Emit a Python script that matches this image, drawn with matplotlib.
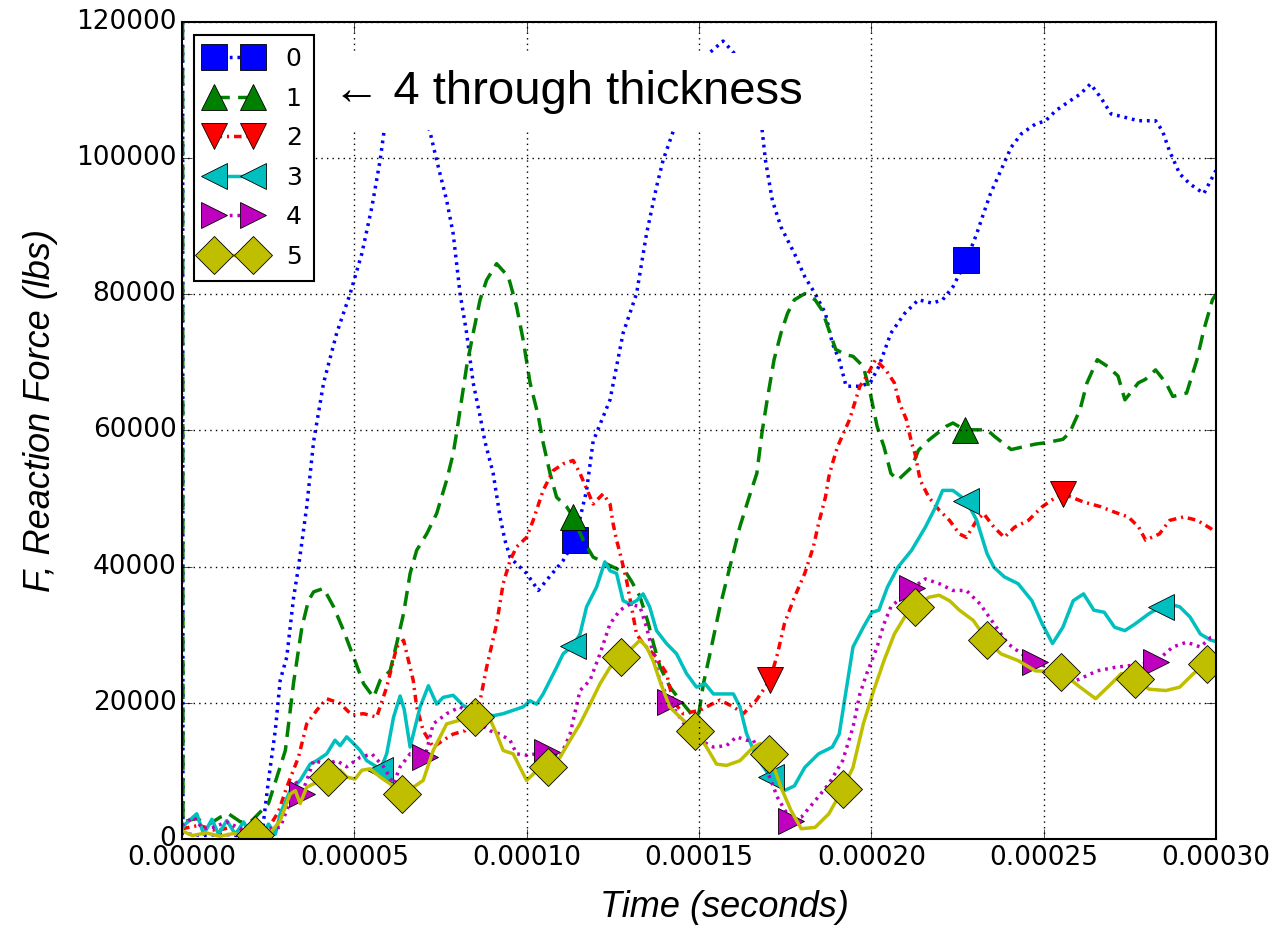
import numpy as np
import matplotlib
matplotlib.use("Agg")
import matplotlib.pyplot as plt
from matplotlib.ticker import FormatStrFormatter, MultipleLocator

plt.style.use("classic")
plt.rcParams["font.family"] = ["DejaVu Sans"]

# time in units of 1e-5 s, force in lbs
t0 = [0, 0.03, 0.6, 1.2, 1.8, 2.32, 2.37, 2.51, 2.71, 2.85, 3.04, 3.24, 3.38, 3.62, 3.82, 4.11, 4.49, 4.88,
      5.22, 5.51, 5.75, 5.86, 6.1, 6.5, 6.9, 7.2, 7.39, 7.68, 7.87, 8.07, 8.26, 8.45, 8.65, 8.79, 9.03, 9.23,
      9.37, 9.52, 9.61, 10.0, 10.34, 10.58, 11.06, 11.4, 11.74, 11.93, 12.42, 12.8, 13.19, 13.48, 13.77,
      13.96, 14.23, 14.7, 15.2, 15.7, 16.1, 16.5, 16.83, 16.93, 17.13, 17.38, 17.77, 18.07, 18.37, 18.67,
      18.87, 19.07, 19.27, 19.67, 19.97, 20.22, 20.57, 20.97, 21.37, 21.77, 22.07, 22.37, 22.76, 23.06,
      23.26, 23.46, 23.76, 24.06, 24.36, 24.76, 25.06, 25.36, 25.76, 26.06, 26.36, 26.66, 26.96, 27.36,
      27.75, 28.25, 28.45, 28.65, 28.95, 29.25, 29.65, 29.95, 30.0]
f0 = [400000, 800, 500, 700, 400, 300, 2700, 8600, 16000, 23300, 26700, 35500, 39900, 48800, 58400, 67000,
      74300, 80100, 86000, 92800, 99700, 103800, 108500, 111500, 108500, 103800, 99700, 93800, 88900, 80100,
      74300, 67000, 62100, 58400, 53700, 47300, 43900, 41400, 40900, 39000, 36500, 38000, 40900, 43900,
      51200, 58400, 64500, 74300, 80100, 88900, 95800, 99700, 103600, 110000, 115000, 117200, 115000,
      109000, 104300, 99700, 93800, 89900, 86000, 82600, 80100, 77200, 72800, 70400, 66500, 66500, 67000,
      69400, 74300, 77200, 79200, 78700, 79200, 81100, 85000, 88900, 91900, 94800, 98200, 101600, 103600,
      105000, 105500, 107000, 108400, 109400, 110900, 108900, 106500, 106000, 105500, 105500, 104000,
      101100, 97700, 96200, 94800, 97700, 98200]
m0 = [11.4, 22.76]

t1 = [0, 0.03, 0.4, 0.8, 1.11, 1.35, 1.7, 2.03, 2.51, 3.0, 3.24, 3.48, 3.67, 3.82, 4.11, 4.4, 4.69, 4.98,
      5.27, 5.56, 5.75, 6.04, 6.23, 6.43, 6.62, 6.81, 7.1, 7.39, 7.68, 7.87, 7.97, 8.26, 8.45, 8.65, 8.84,
      9.13, 9.47, 9.71, 9.9, 10.1, 10.34, 10.48, 10.68, 10.87, 11.16, 11.35, 11.64, 11.93, 12.4, 12.9,
      13.05, 13.29, 13.53, 13.68, 13.87, 14.16, 14.45, 14.84, 15.0, 15.13, 15.32, 15.61, 15.9, 16.19,
      16.43, 16.68, 16.83, 16.98, 17.18, 17.38, 17.57, 17.77, 18.07, 18.37, 18.57, 18.77, 18.97, 19.27,
      19.47, 19.77, 19.97, 20.17, 20.37, 20.57, 20.77, 21.17, 21.37, 21.67, 22.17, 22.37, 22.71, 23.36,
      23.56, 24.06, 24.76, 25.06, 25.56, 25.76, 26.06, 26.26, 26.56, 26.86, 27.16, 27.36, 27.75, 27.95,
      28.25, 28.55, 28.75, 29.15, 29.45, 29.65, 29.9, 30.0]
f1 = [300000, 2500, 3000, 2200, 3200, 3700, 2500, 2700, 5200, 13000, 23000, 31100, 35000, 36300, 36800,
      34100, 30600, 26700, 22800, 20800, 23300, 24700, 28700, 33100, 39000, 42400, 44800, 47800, 52700,
      56600, 59700, 69400, 74300, 79200, 82100, 84500, 82600, 78200, 73300, 67000, 62100, 58200, 53700,
      50200, 48800, 47300, 43900, 41400, 40200, 39000, 37800, 35600, 31700, 28700, 25300, 22300, 20400,
      18000, 18500, 22800, 27200, 34100, 40000, 45900, 49800, 53700, 59700, 64500, 70400, 74300, 77200,
      79200, 80100, 79200, 77700, 74800, 71900, 71100, 70900, 69400, 65500, 60600, 57600, 53700, 52700,
      54600, 57100, 58600, 60600, 61100, 60100, 60100, 59200, 57200, 58000, 58200, 58700, 59700, 63100,
      67000, 70400, 69400, 68000, 64500, 67000, 67500, 68900, 67000, 65000, 65500, 70400, 74800, 79200,
      80000]
m1 = [11.35, 22.71]

t2 = [0, 0.5, 1.0, 1.4, 2.0, 2.5, 2.8, 3.04, 3.38, 3.62, 3.91, 4.2, 4.59, 4.93, 5.27, 5.65, 5.94, 6.04,
      6.23, 6.43, 6.71, 6.81, 7.0, 7.29, 7.58, 7.87, 8.21, 8.45, 8.65, 8.84, 9.13, 9.32, 9.52, 9.71, 10.0,
      10.19, 10.48, 10.77, 11.06, 11.35, 11.55, 11.93, 12.22, 12.42, 12.51, 12.61, 12.71, 12.9, 13.19,
      13.38, 13.77, 14.06, 14.25, 14.54, 15.03, 15.22, 15.61, 16.0, 16.29, 16.67, 17.06, 17.28, 17.48,
      17.77, 18.07, 18.32, 18.47, 18.67, 18.77, 18.87, 19.02, 19.37, 19.67, 19.87, 20.12, 20.42, 20.67,
      20.82, 21.02, 21.17, 21.27, 21.42, 21.67, 21.97, 22.27, 22.56, 22.76, 23.06, 23.26, 23.56, 23.86,
      24.16, 24.56, 24.96, 25.36, 25.56, 26.16, 26.66, 27.06, 27.46, 27.76, 27.96, 28.36, 28.66, 29.06,
      29.46, 29.85, 30.0]
f2 = [1500, 2000, 1200, 1700, 1000, 1500, 4000, 7600, 12000, 16900, 18900, 20600, 19900, 18200, 18400,
      17900, 22300, 24300, 28200, 29200, 23300, 19400, 15900, 13500, 14500, 15400, 15900, 17900, 20300,
      25200, 31600, 37500, 40900, 42900, 44300, 46800, 51200, 54100, 55100, 55600, 53700, 49200, 50700,
      49200, 46300, 43900, 42000, 38000, 30100, 28700, 26700, 24300, 20300, 18400, 18900, 19400, 20400,
      19400, 18400, 20400, 23300, 27200, 31600, 35500, 39000, 42900, 46300, 50200, 53200, 55100, 57600,
      61600, 66500, 68000, 70400, 68900, 67000, 64000, 61600, 58200, 56600, 52700, 50200, 48300, 46800,
      44800, 44300, 46800, 47800, 45800, 44300, 45800, 46800, 48800, 50200, 50700, 49500, 48800, 48000,
      47300, 45800, 43900, 44800, 46800, 47300, 46800, 45600, 45000]
m2 = [17.06, 25.56]

t3 = [0, 0.1, 0.43, 0.63, 0.87, 1.06, 1.3, 1.55, 1.79, 1.98, 2.22, 2.37, 2.51, 2.71, 2.85, 3.14, 3.43,
      3.72, 3.91, 4.2, 4.44, 4.59, 4.78, 4.98, 5.17, 5.36, 5.65, 5.75, 5.94, 6.14, 6.33, 6.45, 6.62, 6.91,
      7.15, 7.39, 7.58, 7.87, 8.16, 8.45, 8.74, 9.03, 9.32, 9.61, 9.9, 10.1, 10.29, 10.48, 10.68, 10.87,
      11.06, 11.35, 11.55, 11.74, 12.03, 12.27, 12.42, 12.61, 12.8, 13.0, 13.19, 13.38, 13.57, 13.77,
      14.06, 14.35, 14.64, 14.93, 15.18, 15.42, 15.71, 16.0, 16.19, 16.38, 16.67, 17.08, 17.48, 17.77,
      18.07, 18.47, 18.87, 19.07, 19.27, 19.47, 19.77, 20.02, 20.22, 20.47, 20.77, 21.17, 21.57, 21.87,
      22.07, 22.37, 22.76, 23.06, 23.36, 23.56, 23.86, 24.26, 24.66, 24.96, 25.26, 25.56, 25.86, 26.16,
      26.46, 26.76, 27.06, 27.36, 27.66, 28.06, 28.4, 28.65, 28.95, 29.25, 29.55, 29.85, 30.0]
f3 = [1500, 2200, 3700, 700, 2900, 700, 2700, 700, 2500, 700, 2500, 700, 2200, 700, 3700, 7100, 8600,
      11000, 11500, 12500, 14500, 13700, 15000, 14000, 13000, 11500, 10600, 10100, 12500, 17900, 21000,
      19000, 13500, 19400, 22500, 19800, 20800, 21100, 19600, 18900, 18400, 18100, 18400, 18900, 19400,
      20300, 19800, 21300, 23300, 25200, 27200, 28400, 30100, 34100, 37000, 40700, 39400, 39000, 35000,
      34500, 35000, 36000, 34100, 30600, 28700, 27200, 24300, 22300, 22800, 21300, 21300, 21300, 19400,
      15500, 12000, 9100, 7100, 7800, 10500, 12500, 13500, 15400, 21800, 28200, 31100, 33300, 33600,
      37000, 39900, 42400, 45800, 48800, 51200, 51200, 49700, 46800, 41900, 39900, 38500, 37500, 35000,
      31600, 28700, 31100, 35000, 36000, 33600, 33300, 31100, 30600, 31600, 33100, 34100, 34500, 34100,
      32600, 30100, 29200, 29000]
m3 = [5.75, 11.35, 17.08, 22.76, 28.4]

t4 = [0, 0.34, 0.6, 0.9, 1.3, 1.7, 2.1, 2.5, 2.85, 3.1, 3.29, 3.48, 3.82, 4.2, 4.49, 4.78, 5.17, 5.51,
      5.85, 6.14, 6.33, 6.62, 7.05, 7.29, 7.68, 8.07, 8.36, 8.65, 8.94, 9.23, 9.52, 9.71, 10.0, 10.58,
      10.97, 11.26, 11.55, 11.84, 12.13, 12.42, 12.71, 13.0, 13.29, 13.48, 13.67, 13.86, 14.15, 14.64,
      15.03, 15.42, 15.8, 16.09, 16.38, 16.58, 16.98, 17.28, 17.67, 17.97, 18.37, 18.77, 19.17, 19.47,
      19.67, 19.87, 20.17, 20.37, 20.57, 21.17, 21.57, 21.97, 22.37, 22.76, 23.16, 23.56, 23.96, 24.36,
      24.76, 25.36, 25.96, 26.56, 27.06, 27.56, 28.25, 28.75, 29.15, 29.55, 29.85, 30.0]
f4 = [2000, 3200, 1500, 1700, 2500, 1500, 2000, 1500, 1700, 5000, 8600, 6600, 11500, 11000, 11500, 10600,
      12000, 12500, 10600, 8100, 10600, 12500, 12000, 16900, 18400, 19400, 18400, 16900, 15900, 15400,
      14500, 12500, 12300, 12700, 12000, 15400, 21800, 23300, 27200, 31600, 33600, 34500, 34100, 31100,
      27200, 23300, 20100, 16400, 14500, 13500, 13700, 15000, 14500, 14500, 10000, 6100, 2700, 3200, 5600,
      8100, 11500, 16400, 21300, 24300, 28200, 31600, 34100, 36800, 38200, 37500, 36500, 36500, 34500,
      31600, 28700, 27200, 26000, 24700, 23300, 24700, 25200, 25500, 26000, 28200, 28900, 28200, 29600,
      29800]
m4 = [3.48, 7.05, 10.58, 14.15, 17.67, 21.17, 24.76, 28.25]

t5 = [0, 0.3, 0.7, 1.1, 1.5, 1.8, 2.13, 2.5, 2.85, 3.14, 3.29, 3.43, 3.62, 3.9, 4.25, 4.59, 4.78, 5.02,
      5.22, 5.46, 5.75, 6.04, 6.38, 6.71, 7.0, 7.29, 7.49, 7.68, 8.1, 8.5, 8.94, 9.13, 9.32, 9.61, 10.0,
      10.29, 10.63, 10.97, 11.26, 11.55, 11.84, 12.13, 12.42, 12.75, 13.09, 13.29, 13.48, 13.67, 13.86,
      14.15, 14.45, 14.88, 15.22, 15.51, 15.8, 16.19, 16.58, 16.78, 17.04, 17.38, 17.67, 17.97, 18.37,
      18.77, 19.17, 19.47, 19.77, 20.07, 20.37, 20.67, 20.97, 21.27, 21.67, 21.97, 22.27, 22.56, 22.96,
      23.36, 23.76, 24.26, 24.76, 25.51, 26.06, 26.51, 26.86, 27.26, 27.66, 28.06, 28.55, 28.95, 29.35,
      29.75, 30.0]
f5 = [1200, 500, 900, 400, 800, 400, 600, 500, 2700, 6600, 7100, 5200, 7600, 8300, 9100, 10100, 9100,
      8800, 10100, 10300, 9100, 8100, 6600, 7600, 8600, 13000, 15000, 16900, 17500, 17900, 17600, 15400,
      13000, 12500, 8600, 10000, 10500, 12000, 14500, 16900, 19800, 22800, 25200, 26700, 28200, 29200,
      28200, 26200, 23300, 19400, 17900, 15900, 13500, 11000, 10800, 11500, 13500, 14000, 12500, 7600,
      4200, 1500, 1700, 3700, 7300, 10500, 16900, 21800, 26200, 30100, 32600, 34100, 35500, 35800, 35000,
      33600, 32100, 29200, 27200, 26200, 24700, 24500, 22300, 20600, 22300, 24300, 23500, 22000, 21800,
      22300, 24300, 25700, 26000]
m5 = [2.13, 4.25, 6.38, 8.5, 10.63, 12.75, 14.88, 17.04, 19.17, 21.27, 23.36, 25.51, 27.66, 29.75]

labels = ["0", "1", "2", "3", "4", "5"]

series = [(t0, f0, m0, "b", (0, (2, 3.5)), "s"),
          (t1, f1, m1, "g", (0, (11, 6)), "^"),
          (t2, f2, m2, "r", (0, (5.5, 3.5, 1.5, 3.5)), "v"),
          (t3, f3, m3, "c", "-", "<"),
          (t4, f4, m4, "m", (0, (2, 3.5)), ">"),
          (t5, f5, m5, "y", "-", "D")]

fig = plt.figure(figsize=(12.76, 9.33), dpi=100, facecolor="white")
ax = fig.add_axes([0.1426, 0.1008, 0.8103, 0.8756])

for (tt, ff, mm, col, ls, mk), lab in zip(series, labels):
    tt = np.array(tt) * 1e-5
    idx = [int(np.argmin(np.abs(tt - m * 1e-5))) for m in mm]
    ax.plot(tt, ff, color=col, linestyle=ls, linewidth=2.5, marker=mk,
            markersize=19, markeredgewidth=0.6, markeredgecolor="k",
            markevery=idx, label=lab)

ax.set_xlim(0, 0.0003)
ax.set_ylim(0, 120000)
ax.xaxis.set_major_locator(MultipleLocator(0.00005))
ax.xaxis.set_major_formatter(FormatStrFormatter("%.5f"))
ax.yaxis.set_major_locator(MultipleLocator(20000))
ax.grid(True, color="k", linestyle=":", linewidth=1.0)
ax.tick_params(labelsize=19, direction="in", length=7, top=True, right=True)
for s in ax.spines.values():
    s.set_linewidth(1.5)

lab_font = ["Liberation Sans", "DejaVu Sans"]
ax.set_xlabel("Time (seconds)", fontsize=26, style="italic", family=lab_font)
ax.set_ylabel("F, Reaction Force (lbs)", fontsize=26, style="italic", family=lab_font)
ax.xaxis.set_label_coords(0.525, -0.062)
ax.yaxis.set_label_coords(-0.12, 0.525)

ax.text(0.146, 0.90, "\u2190 4 through thickness", transform=ax.transAxes, fontsize=34,
        family=lab_font, va="baseline",
        bbox=dict(facecolor="white", edgecolor="none", pad=12), zorder=4)

leg = ax.legend(loc="upper left", numpoints=2, fontsize=18, fancybox=False,
                handlelength=2.15, handletextpad=1.0, labelspacing=0.62, borderpad=0.5)
leg.get_frame().set_linewidth(1.5)
leg.get_frame().set_edgecolor("k")

fig.savefig("out.png", dpi=100, facecolor="white")
